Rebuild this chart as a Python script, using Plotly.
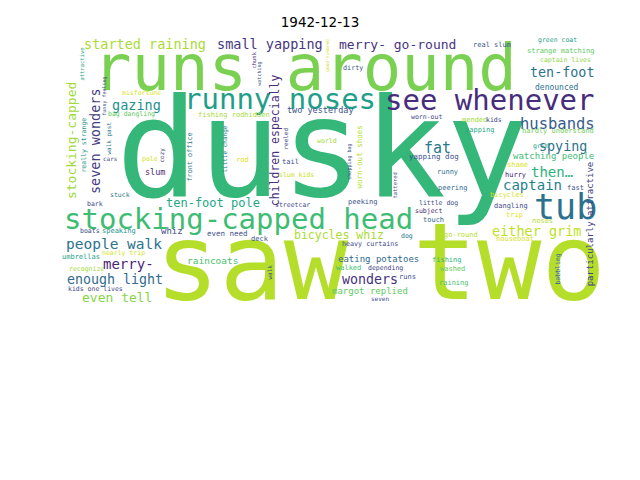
import plotly.graph_objects as go

# word cloud for one day; positions are in the picture's own pixel frame
words = [
    "dusky", "saw two", "runs around", "stocking-capped head", "see whenever",
    "runny noses", "tub", "started raining", "small yapping", "merry- go-round",
    "ten-foot", "husbands", "spying", "then…", "captain", "fat", "either grim",
    "gazing", "ten-foot pole", "people walk", "merry-", "raincoats", "enough light",
    "even tell", "bicycles whiz", "eating potatoes", "wonders", "margot replied",
    "two yesterday", "whiz", "slum", "denounced", "watching people",
    "hardly understand", "real slum", "green coat", "strange matching",
    "captain lives", "mended", "kids", "yapping", "worn-out", "grim", "shame",
    "hurry", "bicycles", "dangling", "trip", "noses", "fast", "houseboat",
    "go-round", "fishing", "washed", "raining", "yapping dog", "runny", "peering",
    "little dog", "subject", "touch", "peeking", "streetcar", "slum kids", "world",
    "tail", "rod", "fishing rodhidden", "dirty", "deck", "dog", "heavy curtains",
    "walked", "depending", "runs", "seven", "even need", "boats", "speaking",
    "bark", "stuck", "nearly trip", "umbrellas", "recognize", "kids one lives",
    "misfortune", "bag dangling", "cars", "pole",
    # vertical words
    "stocking-capped", "seven wonders", "attractive", "funny feeling",
    "authorities", "really strange", "walk past", "cozy", "front office",
    "little change", "children especially", "reeled", "chunk", "watching",
    "good-humored", "shopping bag", "worn-out shoes", "tattered", "walk",
    "particularly attractive", "babbling",
]
word_x = [
    322, 380, 305, 238, 490, 280, 565, 145, 270, 397,
    562, 557, 563, 552, 532, 437, 536, 136, 213, 114,
    128, 212, 115, 117, 339, 378, 370, 370, 320, 172,
    155, 557, 553, 558, 492, 557, 560, 565, 474, 494,
    480, 426, 541, 517, 515, 507, 511, 514, 542, 575,
    515, 461, 447, 452, 454, 434, 447, 453, 438, 428,
    433, 363, 292, 296, 327, 290, 242, 234, 353, 260,
    407, 370, 348, 385, 407, 380, 227, 90, 119, 95,
    120, 123, 81, 86, 95, 141, 131, 110, 150,
    72, 96, 82, 104, 64, 84, 109, 162, 190, 225,
    276, 285, 254, 259, 327, 349, 360, 395, 269, 591, 558,
]
word_y = [
    158, 269, 72, 221, 102, 101, 209, 45, 45, 45,
    73, 125, 147, 173, 186, 149, 232, 106, 204, 245,
    265, 261, 280, 298, 236, 260, 280, 292, 111, 232,
    173, 88, 157, 131, 45, 40, 51, 60, 120, 120,
    130, 117, 146, 165, 175, 195, 206, 215, 221, 188,
    239, 235, 260, 269, 283, 157, 172, 188, 203, 211,
    220, 202, 205, 175, 141, 162, 160, 115, 68, 239,
    236, 244, 268, 268, 277, 299, 234, 231, 231, 204,
    195, 253, 257, 269, 289, 93, 114, 159, 159,
    141, 141, 64, 96, 120, 145, 138, 155, 157, 149,
    140, 139, 60, 74, 55, 162, 157, 185, 272, 224, 269,
]
word_size = [
    137, 107, 64, 29, 29, 29, 35, 13.5, 13.5, 13,
    13.4, 15.5, 13.4, 14, 14, 15, 13.5, 13.5, 12, 14.5,
    14, 9.5, 13.3, 13, 11.5, 9, 13.3, 9, 8.5, 9,
    8.5, 8, 9, 7, 7, 6.5, 7, 6.5, 7, 6.5,
    7, 6.5, 6.5, 7, 7, 7, 7, 7, 7, 7,
    7, 7, 7, 7, 7, 7.5, 7, 7, 6.5, 6.5,
    7, 7, 6.5, 6.5, 6.5, 7, 7, 7, 6.8, 7,
    6.5, 6.7, 7, 6.5, 7, 6, 7.5, 6.5, 7, 6.5,
    6.5, 6.5, 7, 6.5, 6.5, 6.5, 6.5, 6, 6.5,
    13, 13.5, 5.5, 5, 5, 6.5, 6, 6, 6.8, 6,
    11.5, 6, 5.5, 5, 4.5, 5, 7.5, 5.5, 6, 9, 6.5,
]
word_color = [
    "#35b779", "#b5de2b", "#7ad151", "#3fbc73", "#472d7b",
    "#1f9e89", "#2c728e", "#a8db34", "#453781", "#46337e",
    "#2c728e", "#365c8d", "#2c728e", "#2db27d", "#26828e",
    "#2a788e", "#bddf26", "#21918c", "#22a884", "#2c728e",
    "#482576", "#4ac16d", "#2f6c8e", "#86d549", "#aadc32",
    "#31688e", "#46327e", "#5ec962", "#3b528b", "#3e4989",
    "#482878", "#2d708e", "#3fbc73", "#6ccd5a", "#39568c",
    "#1fa187", "#5ec962", "#8fd744", "#a0da39", "#414487",
    "#22a884", "#414487", "#1f9e89", "#d8e219", "#482878",
    "#d2e21b", "#3e4989", "#dde318", "#b5de2b", "#3b528b",
    "#d2e21b", "#b5de2b", "#2db27d", "#5ec962", "#4ac16d",
    "#3b528b", "#2c728e", "#31688e", "#3b528b", "#482878",
    "#31688e", "#3b528b", "#3e4989", "#c8e020", "#a0da39",
    "#3e4989", "#d8e219", "#a5db36", "#3b528b", "#3b528b",
    "#2a788e", "#3e4989", "#3fbc73", "#414487", "#3b528b",
    "#3e4989", "#3b528b", "#3e4989", "#21918c", "#3e4989",
    "#2a788e", "#d2e21b", "#21a585", "#a0da39", "#3e4989",
    "#d8e219", "#5ec962", "#3e4989", "#d2e21b",
    "#a0da39", "#433e85", "#22a884", "#3e4989", "#3b528b",
    "#21918c", "#2a788e", "#414487", "#2a788e", "#26828e",
    "#472f7d", "#3e4989", "#482878", "#3b528b", "#d0e11c",
    "#3b528b", "#b5de2b", "#3b528b", "#3b528b", "#414487",
    "#31688e",
]
n_vertical = 21
vertical = [False] * (len(words) - n_vertical) + [True] * n_vertical

fig = go.Figure()
fig.add_trace(go.Scatter(x=[], y=[], hoverinfo="skip", showlegend=False))

for w, x, y, s, c, v in zip(words, word_x, word_y, word_size, word_color, vertical):
    # x/y are the middle of the letter bodies; nudge the text box accordingly
    shift = 0.07 * s
    fig.add_annotation(
        x=x, y=y, xref="x", yref="y", text=w, showarrow=False,
        xanchor="center", yanchor="middle", borderpad=0,
        textangle=-90 if v else 0,
        xshift=-shift if v else 0, yshift=0 if v else shift,
        font=dict(family="DejaVu Sans Mono", size=s, color=c),
    )

# the page body adds 8px around the figure, so the figure is 8px smaller
fig.update_layout(
    width=632, height=472,
    margin=dict(l=57, r=35, t=27, b=175),
    paper_bgcolor="white", plot_bgcolor="white",
    title=dict(text="1942-12-13", x=312 / 632, xanchor="center", y=1 - 14 / 472,
               yref="container", yanchor="middle",
               font=dict(family="DejaVu Sans", size=13.5, color="black")),
    xaxis=dict(range=[65, 605], visible=False, fixedrange=True),
    yaxis=dict(range=[305, 35], visible=False, fixedrange=True),
)

fig.write_html("out.html")
